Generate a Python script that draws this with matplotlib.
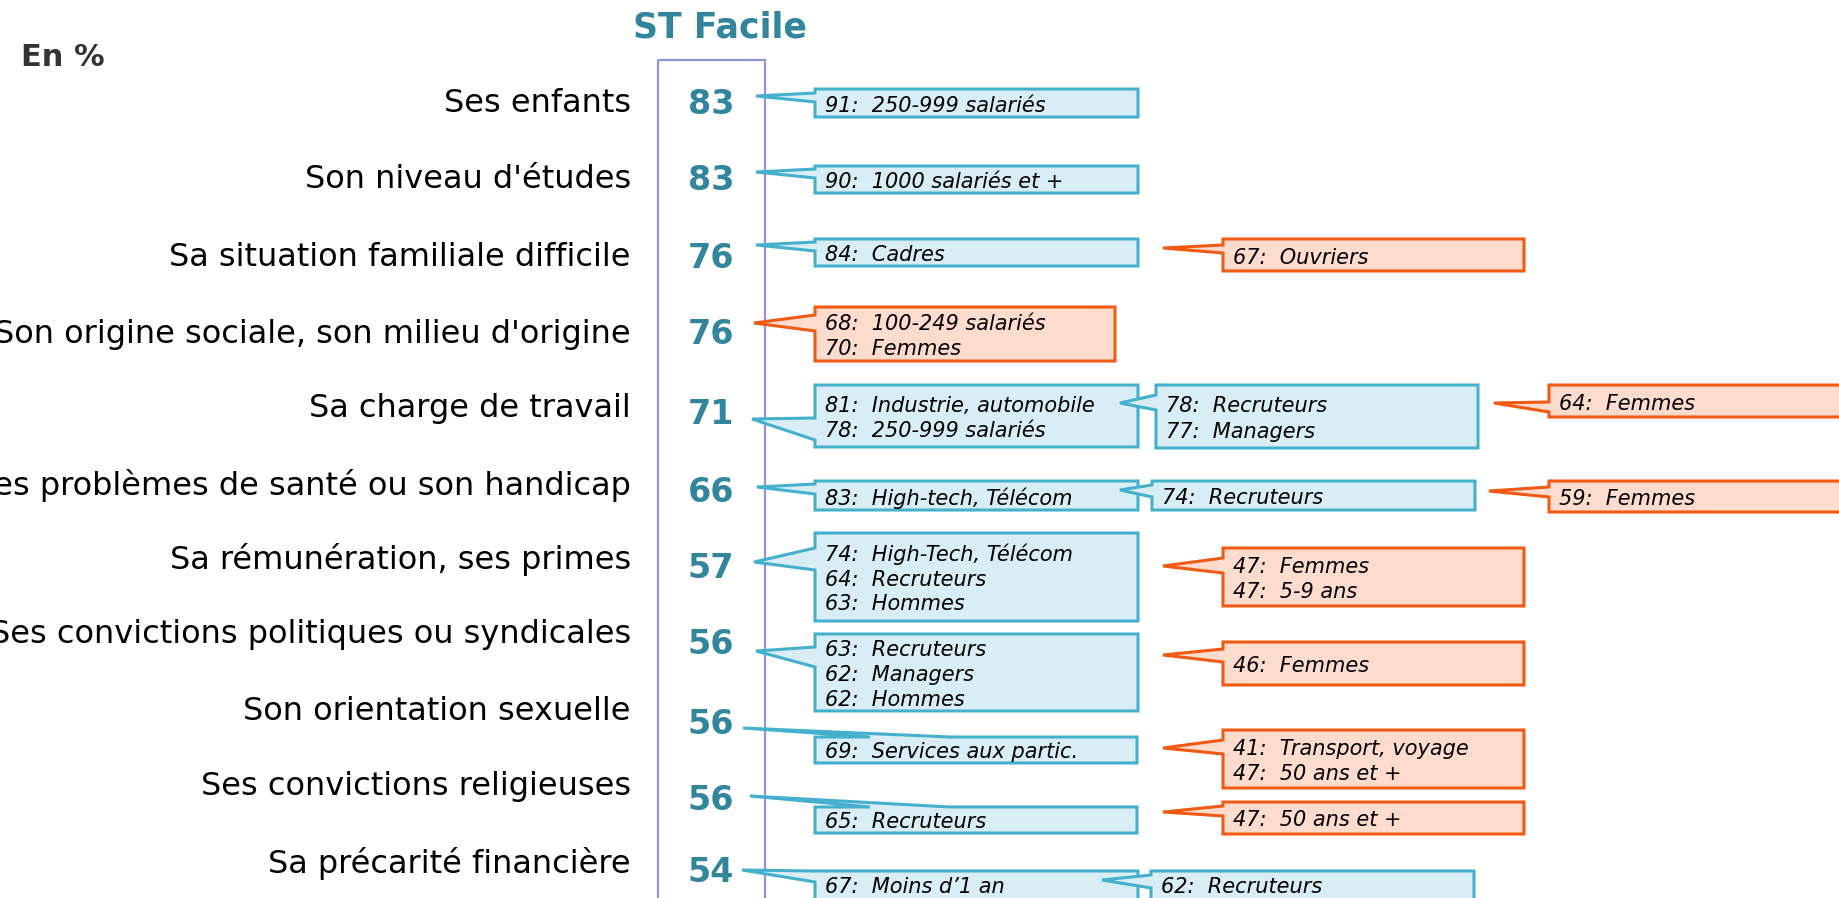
import matplotlib
matplotlib.use("Agg")
import matplotlib.pyplot as plt
from matplotlib.patches import Polygon, Rectangle

# ---------------- data ----------------
categories = [
    "Ses enfants",
    "Son niveau d'études",
    "Sa situation familiale difficile",
    "Son origine sociale, son milieu d'origine",
    "Sa charge de travail",
    "Ses problèmes de santé ou son handicap",
    "Sa rémunération, ses primes",
    "Ses convictions politiques ou syndicales",
    "Son orientation sexuelle",
    "Ses convictions religieuses",
    "Sa précarité financière",
]
values = [83, 83, 76, 76, 71, 66, 57, 56, 56, 56, 54]
title = "ST Facile"
unit_label = "En %"

# callouts: kind 'hi' (blue) / 'lo' (orange)
callout_rows = [0, 1, 2, 2, 3, 4, 4, 4, 5, 5, 5, 6, 6, 7, 7, 8, 8, 9, 9, 10, 10]
callout_kinds = ["hi", "hi", "hi", "lo", "lo", "hi", "hi", "lo", "hi", "hi", "lo",
                 "hi", "lo", "hi", "lo", "hi", "lo", "hi", "lo", "hi", "hi"]
callout_texts = [
    ["91:  250-999 salariés"],
    ["90:  1000 salariés et +"],
    ["84:  Cadres"],
    ["67:  Ouvriers"],
    ["68:  100-249 salariés", "70:  Femmes"],
    ["81:  Industrie, automobile", "78:  250-999 salariés"],
    ["78:  Recruteurs", "77:  Managers"],
    ["64:  Femmes"],
    ["83:  High-tech, Télécom"],
    ["74:  Recruteurs"],
    ["59:  Femmes"],
    ["74:  High-Tech, Télécom", "64:  Recruteurs", "63:  Hommes"],
    ["47:  Femmes", "47:  5-9 ans"],
    ["63:  Recruteurs", "62:  Managers", "62:  Hommes"],
    ["46:  Femmes"],
    ["69:  Services aux partic."],
    ["41:  Transport, voyage", "47:  50 ans et +"],
    ["65:  Recruteurs"],
    ["47:  50 ans et +"],
    ["67:  Moins d\u20191 an"],
    ["62:  Recruteurs"],
]

# ---------------- layout (pixels, y downward) ----------------
label_y = [104, 180, 257, 334, 409, 485, 560, 635, 712, 787, 864]
value_y = [105, 180, 258, 335, 414, 492, 569, 645, 724, 800, 872]
# box: (x0, x1, y0, y1, tipx, tipy, side, a, b)
callout_layout = [
    (815, 1138, 89, 117, 756, 96, "L", 93, 102),
    (815, 1138, 166, 193, 756, 172, "L", 169, 178),
    (815, 1138, 239, 266, 756, 245, "L", 242, 251),
    (1223, 1524, 239, 271, 1163, 248, "L", 245, 253),
    (815, 1115, 307, 361, 754, 323, "L", 315, 331),
    (815, 1138, 385, 447, 752, 419, "L", 418, 440),
    (1156, 1478, 385, 448, 1120, 403, "L", 395, 410),
    (1549, 1872, 385, 417, 1494, 403, "L", 402, 412),
    (815, 1138, 481, 510, 757, 487, "L", 484, 494),
    (1152, 1475, 481, 510, 1120, 490, "L", 485, 497),
    (1549, 1872, 481, 512, 1489, 491, "L", 487, 497),
    (815, 1138, 533, 621, 754, 562, "L", 548, 570),
    (1223, 1524, 548, 606, 1163, 566, "L", 558, 573),
    (815, 1138, 634, 711, 756, 651, "L", 647, 667),
    (1223, 1524, 642, 685, 1163, 655, "L", 649, 662),
    (815, 1137, 737, 763, 743, 728, "T", 870, 950),
    (1223, 1524, 730, 788, 1163, 748, "L", 740, 754),
    (815, 1137, 807, 833, 750, 796, "T", 870, 950),
    (1223, 1524, 802, 834, 1163, 812, "L", 806, 816),
    (815, 1138, 871, 905, 742, 870, "L", 871, 882),
    (1151, 1474, 871, 905, 1102, 880, "L", 875, 888),
]

styles = {
    "hi": dict(face="#D8EEF4", edge="#45B0CE"),
    "lo": dict(face="#FDDCCD", edge="#F05A14"),
}
teal = "#31859C"
frame_color = "#8F95D8"

W, H = 1840, 898
fig = plt.figure(figsize=(W / 100, H / 100), dpi=100)
ax = fig.add_axes([0, 0, 1, 1])
ax.set_xlim(0, W)
ax.set_ylim(H, 0)
ax.axis("off")

# title and unit
ax.text(720, 27, title, ha="center", va="center", fontsize=25, fontweight="bold",
        color=teal)
ax.text(21, 58, unit_label, ha="left", va="center", fontsize=22, fontweight="bold",
        color="#333333")

# frame
ax.add_patch(Rectangle((658, 60), 107, 900, fill=False, edgecolor=frame_color,
                       linewidth=1.6, zorder=2))

# category labels and values
for cat, v, ly, vy in zip(categories, values, label_y, value_y):
    ax.text(631, ly, cat, ha="right", va="center", fontsize=23, color="black")
    ax.text(711, vy, str(v), ha="center", va="center", fontsize=24,
            fontweight="bold", color=teal, zorder=3)

# callouts
for kind, lines, lay in zip(callout_kinds, callout_texts, callout_layout):
    x0, x1, y0, y1, tx, ty, side, a, b = lay
    if side == "L":
        pts = [(x0, y0), (x1, y0), (x1, y1), (x0, y1), (x0, b), (tx, ty), (x0, a)]
    else:
        pts = [(x0, y0), (a, y0), (tx, ty), (b, y0), (x1, y0), (x1, y1), (x0, y1)]
    st = styles[kind]
    ax.add_patch(Polygon(pts, closed=True, facecolor=st["face"],
                         edgecolor=st["edge"], linewidth=2.2, joinstyle="miter",
                         zorder=4))
    n = len(lines)
    if y1 > H:
        cy = y0 + 16
    else:
        cy = (y0 + y1) / 2 + 2.5 - 12.5 * (n - 1)
    for i, line in enumerate(lines):
        ax.text(x0 + 10, cy + 25 * i, line, ha="left", va="center", fontsize=15,
                style="italic", color="black", zorder=5)

fig.savefig("out.png", dpi=100)
